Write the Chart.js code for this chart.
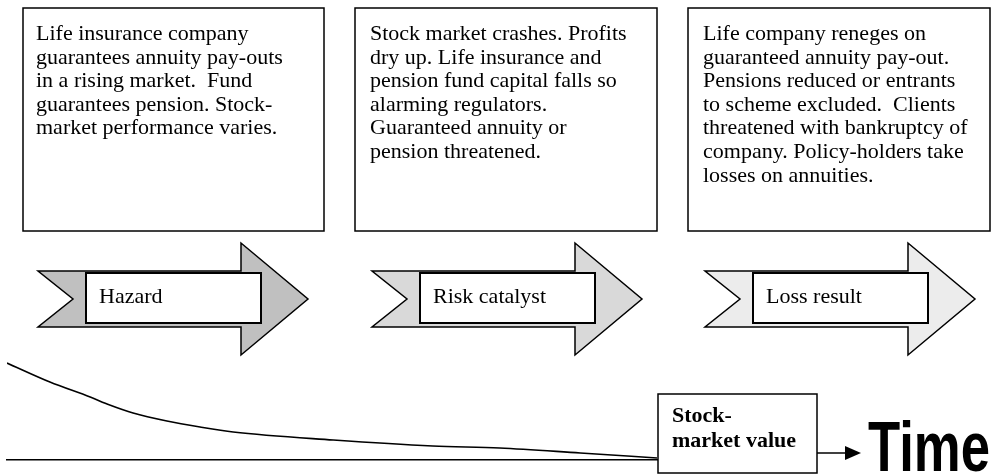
<!DOCTYPE html>
<html>
<head>
<meta charset="utf-8">
<script src="https://cdn.jsdelivr.net/npm/chart.js@4.4.0/dist/chart.umd.min.js"></script>
<style>
  html, body { margin: 0; padding: 0; background: #fff; }
  #wrap { width: 994px; height: 475px; position: relative; }
</style>
</head>
<body>
<div id="wrap"><canvas id="chart"></canvas></div>
<script>
// Curva do valor do mercado de ações (tempo 0..100, valor 0..100)
const TIME = [0, 6.6, 12.8, 15.8, 19.4, 24.6, 29.7, 34.8, 50.2, 65.5, 75.8, 88.2, 100];
const STOCK_VALUE = [97, 78, 63, 55, 47, 39, 33, 28, 20, 14, 12, 7, 2];

// Textos das caixas de cima
const BOX_TEXTS = [
    ["Life insurance company", "guarantees annuity pay-outs", "in a rising market.  Fund",
     "guarantees pension. Stock-", "market performance varies."],
    ["Stock market crashes. Profits", "dry up. Life insurance and", "pension fund capital falls so",
     "alarming regulators.", "Guaranteed annuity or", "pension threatened."],
    ["Life company reneges on", "guaranteed annuity pay-out.", "Pensions reduced or entrants",
     "to scheme excluded.  Clients", "threatened with bankruptcy of", "company. Policy-holders take",
     "losses on annuities."]
];
const ARROW_LABELS = ["Hazard", "Risk catalyst", "Loss result"];
const ARROW_COLORS = ['#c0c0c0', '#d9d9d9', '#ececec'];
const VALUE_LABEL = ["Stock-", "market value"];
const AXIS_LABEL = "Time";

const SERIF = '"Liberation Serif", "Times New Roman", serif';

// Desenha caixas, setas e rótulos por cima do gráfico
const diagramPlugin = {
    id: 'diagram',
    afterDraw(chart) {
        const ctx = chart.ctx;
        ctx.save();
        ctx.lineJoin = 'miter';

        // caixas de texto
        const boxLefts = [23, 355, 688];
        const boxWidths = [301, 302, 302];
        const textLefts = [36, 370, 703];
        ctx.font = '22px ' + SERIF;
        ctx.textBaseline = 'alphabetic';
        BOX_TEXTS.forEach((lines, i) => {
            ctx.fillStyle = '#fff';
            ctx.fillRect(boxLefts[i], 8, boxWidths[i], 223);
            ctx.strokeStyle = '#000';
            ctx.lineWidth = 1.5;
            ctx.strokeRect(boxLefts[i], 8, boxWidths[i], 223);
            ctx.fillStyle = '#000';
            lines.forEach((t, j) => ctx.fillText(t, textLefts[i], 40 + j * 23.6));
        });

        // setas
        const arrowStarts = [38, 372, 705];
        ARROW_LABELS.forEach((label, i) => {
            const x0 = arrowStarts[i];
            ctx.beginPath();
            ctx.moveTo(x0, 271);
            ctx.lineTo(x0 + 203, 271);
            ctx.lineTo(x0 + 203, 243);
            ctx.lineTo(x0 + 270, 299);
            ctx.lineTo(x0 + 203, 355);
            ctx.lineTo(x0 + 203, 327);
            ctx.lineTo(x0, 327);
            ctx.lineTo(x0 + 35, 299);
            ctx.closePath();
            ctx.fillStyle = ARROW_COLORS[i];
            ctx.fill();
            ctx.lineWidth = 1.5;
            ctx.strokeStyle = '#000';
            ctx.stroke();

            ctx.fillStyle = '#fff';
            ctx.fillRect(x0 + 48, 273, 175, 50);
            ctx.lineWidth = 2;
            ctx.strokeRect(x0 + 48, 273, 175, 50);
            ctx.fillStyle = '#000';
            ctx.font = '22px ' + SERIF;
            ctx.fillText(label, x0 + 61, 303);
        });

        // caixa "Stock-market value"
        ctx.fillStyle = '#fff';
        ctx.fillRect(658, 394, 159, 79);
        ctx.lineWidth = 1.5;
        ctx.strokeRect(658, 394, 159, 79);
        ctx.fillStyle = '#000';
        ctx.font = 'bold 22px ' + SERIF;
        VALUE_LABEL.forEach((t, j) => ctx.fillText(t, 672, 422 + j * 25));

        // seta para "Time"
        ctx.beginPath();
        ctx.moveTo(817, 453);
        ctx.lineTo(848, 453);
        ctx.lineWidth = 1.5;
        ctx.stroke();
        ctx.beginPath();
        ctx.moveTo(861, 453);
        ctx.lineTo(845, 446);
        ctx.lineTo(845, 460);
        ctx.closePath();
        ctx.fill();

        // "Time" em fonte condensada (escala horizontal)
        ctx.font = 'bold 70px "Liberation Sans", Arial, sans-serif';
        const w = ctx.measureText(AXIS_LABEL).width;
        ctx.translate(868, 471);
        ctx.scale(122 / w, 1);
        ctx.fillText(AXIS_LABEL, 0, 0);
        ctx.restore();
    }
};

new Chart(document.getElementById('chart'), {
    type: 'line',
    data: {
        datasets: [{
            data: TIME.map((t, i) => ({ x: t, y: STOCK_VALUE[i] })),
            borderColor: '#000',
            borderWidth: 1.6,
            pointRadius: 0,
            fill: false,
            cubicInterpolationMode: 'monotone'
        }]
    },
    options: {
        responsive: true,
        maintainAspectRatio: false,
        animation: false,
        layout: { padding: { left: 7, right: 337, top: 360, bottom: 7 } },
        plugins: { legend: { display: false }, tooltip: { enabled: false } },
        scales: {
            x: {
                type: 'linear', min: 0, max: 100,
                grid: { display: false },
                ticks: { display: false },
                border: { display: true, color: '#000', width: 1.6 }
            },
            y: { type: 'linear', min: 0, max: 100, display: false }
        }
    },
    plugins: [diagramPlugin]
});
</script>
</body>
</html>
